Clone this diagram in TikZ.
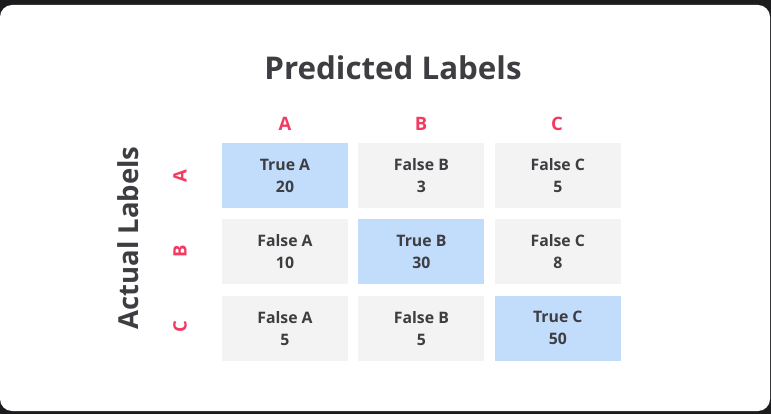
\documentclass[tikz,border=0pt]{standalone}
\usepackage{fontspec}
\setmainfont{Open Sans}
\usetikzlibrary{positioning}

\definecolor{cellBlue}{HTML}{C2DCFC}
\definecolor{cellGray}{HTML}{F3F3F3}
\definecolor{inkGray}{HTML}{3D3D42}
\definecolor{labelRed}{HTML}{F23B62}
\definecolor{frameDark}{HTML}{1C1C1F}

\begin{document}
\begin{tikzpicture}[x=1pt,y=-1pt,node distance=10pt,
  cell/.style={minimum width=126pt,minimum height=65pt,inner sep=0pt,align=center,
    text=inkGray,font=\fontsize{15.8}{22}\selectfont\bfseries},
  hit/.style={cell,fill=cellBlue},
  miss/.style={cell,fill=cellGray},
  axis/.style={text=labelRed,inner sep=0pt,font=\fontsize{18.5}{20}\selectfont\bfseries},
  heading/.style={text=inkGray,inner sep=0pt,font=\fontsize{31.3}{34}\selectfont\bfseries}]
  \useasboundingbox (0,0) rectangle (771,414);
  \fill[frameDark] (0,0) rectangle (771,414);
  \fill[white,rounded corners=12pt] (0,5) rectangle (770,411);

  \node[heading] (Predicted) at (393,68) {Predicted Labels};
  \node[heading,rotate=90,font=\fontsize{27.5}{30}\selectfont\bfseries] (Actual) at (128,238) {Actual Labels};

  % first row
  \node[hit]  (AA) at (285,175.5) {True A\\20};
  \node[miss] (AB) [right=of AA]  {False B\\3};
  \node[miss] (AC) [right=of AB]  {False C\\5};
  % second row
  \node[miss] (BA) [below=11pt of AA] {False A\\10};
  \node[hit]  (BB) [right=of BA]      {True B\\30};
  \node[miss] (BC) [right=of BB]      {False C\\8};
  % third row
  \node[miss] (CA) [below=11pt of BA] {False A\\5};
  \node[miss] (CB) [right=of CA]      {False B\\5};
  \node[hit]  (CC) [right=of CB]      {True C\\50};

  \node[axis] (colA) at (285,124) {A};
  \node[axis] (colB) at (421,124) {B};
  \node[axis] (colC) at (557,124) {C};

  \node[axis,rotate=90] (rowA) at (180,176) {A};
  \node[axis,rotate=90] (rowB) at (180,251) {B};
  \node[axis,rotate=90] (rowC) at (180,327) {C};
\end{tikzpicture}
\end{document}
